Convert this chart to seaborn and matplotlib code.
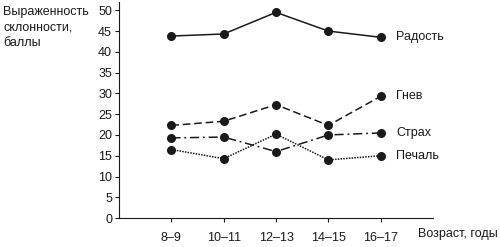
import pandas as pd
import seaborn as sns
import matplotlib.pyplot as plt

# Daten
vozrast = ["8–9", "10–11", "12–13", "14–15", "16–17"]
radost = [43.8, 44.3, 49.5, 45.0, 43.5]
gnev = [22.3, 23.3, 27.3, 22.3, 29.3]
strakh = [19.3, 19.5, 16.0, 20.0, 20.5]
pechal = [16.5, 14.3, 20.2, 14.0, 15.0]

ryady = {"Радость": radost, "Гнев": gnev, "Страх": strakh, "Печаль": pechal}

df = pd.DataFrame(
    [(v, s, y) for s, vals in ryady.items() for v, y in zip(vozrast, vals)],
    columns=["vozrast", "emocija", "ball"],
)

sns.set_style("ticks")
plt.rcParams["font.family"] = ["Liberation Sans", "DejaVu Sans"]

fig = plt.figure(figsize=(5, 2.47), dpi=100)
ax = fig.add_axes([0.238, 0.117, 0.628, 0.875])

dashes = {"Радость": "", "Гнев": (5, 2.5), "Страх": (6, 2.5, 1.2, 2.5), "Печаль": (1, 0.8)}
sns.lineplot(data=df, x="vozrast", y="ball", style="emocija", dashes=dashes,
             markers={k: "o" for k in ryady}, color="#1a1a1a", linewidth=1.1,
             markersize=6.5, markeredgewidth=0, legend=False, ax=ax, sort=False)

# Beschriftungen an den Linienenden
for name, vals in ryady.items():
    ax.annotate(name, xy=(4, vals[-1]), xytext=(11, 0), textcoords="offset points",
                va="center", ha="left", fontsize=9, color="#1a1a1a")

ax.set_xlim(-1, 5)
ax.set_ylim(0, 52)
ax.set_yticks(range(0, 51, 5))
ax.set_xlabel("")
ax.set_ylabel("")
ax.tick_params(labelsize=9, length=3, width=0.8, colors="#1a1a1a")
ax.tick_params(axis="y", pad=2)
ax.tick_params(axis="x", pad=7)
sns.despine(ax=ax)
for sp in ["left", "bottom"]:
    ax.spines[sp].set_linewidth(0.8)
    ax.spines[sp].set_color("#1a1a1a")

fig.text(0.006, 0.975, "Выраженность\nсклонности,\nбаллы", ha="left", va="top",
         fontsize=9, linespacing=1.4, color="#1a1a1a")
fig.text(0.836, 0.028, "Возраст, годы", ha="left", va="bottom", fontsize=9, color="#1a1a1a")

fig.savefig("out.png", dpi=100)
